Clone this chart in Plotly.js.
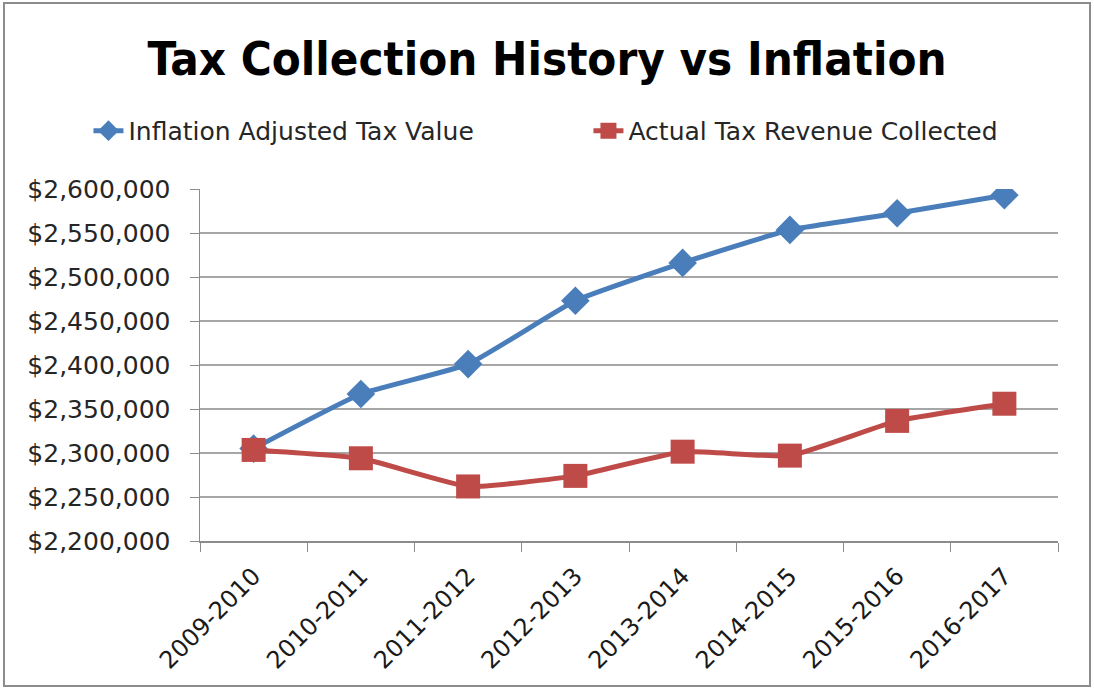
<!DOCTYPE html>
<html>
<head>
<meta charset="utf-8">
<script src="https://cdn.plot.ly/plotly-3.0.1.min.js"></script>
<style>
html,body{margin:0;padding:0;background:#fff;}
#chart{width:1094px;height:688px;position:absolute;left:0;top:0;}
#frame{position:absolute;left:3px;top:2px;width:1084px;height:681px;border:2px solid #8c8c8c;pointer-events:none;}
</style>
</head>
<body>
<div id="chart"></div>
<div id="frame"></div>
<script>
var categories = ["2009-2010","2010-2011","2011-2012","2012-2013","2013-2014","2014-2015","2015-2016","2016-2017"];
var inflationAdjusted = [2305000, 2367000, 2401000, 2473000, 2516000, 2553500, 2572500, 2593000];
var actualCollected = [2303500, 2294000, 2262000, 2274000, 2301500, 2297000, 2336500, 2356000];
var yTickVals = [2200000, 2250000, 2300000, 2350000, 2400000, 2450000, 2500000, 2550000, 2600000];
var yTickText = ["$2,200,000","$2,250,000","$2,300,000","$2,350,000","$2,400,000","$2,450,000","$2,500,000","$2,550,000","$2,600,000"];

var baseFont = "DejaVu Sans, Verdana, sans-serif";

var traces = [
  {
    x: categories, y: inflationAdjusted, name: "Inflation Adjusted Tax Value",
    type: "scatter", mode: "lines+markers",
    line: {color: "#4A7EBB", width: 5, shape: "spline", smoothing: 0.4},
    marker: {symbol: "diamond", size: 22, color: "#4A7EBB"}
  },
  {
    x: categories, y: actualCollected, name: "Actual Tax Revenue Collected",
    type: "scatter", mode: "lines+markers",
    line: {color: "#BE4B48", width: 5, shape: "spline", smoothing: 0.4},
    marker: {symbol: "square", size: 24, color: "#BE4B48"}
  }
];

var layout = {
  width: 1094, height: 688,
  paper_bgcolor: "#ffffff", plot_bgcolor: "#ffffff",
  margin: {l: 200, r: 36, t: 189, b: 147},
  title: {
    text: "<b>Tax Collection History vs Inflation</b>",
    font: {family: "DejaVu Sans Condensed, Liberation Sans Narrow, sans-serif", size: 47, color: "#000"},
    x: 0.5, xanchor: "center", y: 0.915, yanchor: "middle"
  },
  showlegend: true,
  legend: {
    orientation: "h", x: -0.13, xanchor: "left", y: 1.165, yanchor: "middle",
    font: {family: baseFont, size: 25, color: "#262626"},
    entrywidth: 455, entrywidthmode: "pixels",
    traceorder: "normal"
  },
  xaxis: {
    type: "category",
    tickangle: -45,
    tickfont: {family: baseFont, size: 24, color: "#1a1a1a"},
    ticklabelstandoff: 10,
    showgrid: false,
    showline: true, linecolor: "#8c8c8c", linewidth: 1.5,
    ticks: "outside", ticklen: 9, tickcolor: "#8c8c8c",
    tickson: "boundaries",
    range: [-0.5, 7.5]
  },
  yaxis: {
    range: [2200000, 2600000],
    tickvals: yTickVals, ticktext: yTickText,
    tickfont: {family: baseFont, size: 25, color: "#262626"},
    ticklabelstandoff: 14,
    showgrid: true, gridcolor: "#a6a6a6", gridwidth: 1.5,
    showline: true, linecolor: "#8c8c8c", linewidth: 1.5,
    ticks: "outside", ticklen: 9, tickcolor: "#8c8c8c",
    zeroline: false
  }
};

Plotly.newPlot("chart", traces, layout, {displayModeBar: false, staticPlot: true});
</script>
</body>
</html>
